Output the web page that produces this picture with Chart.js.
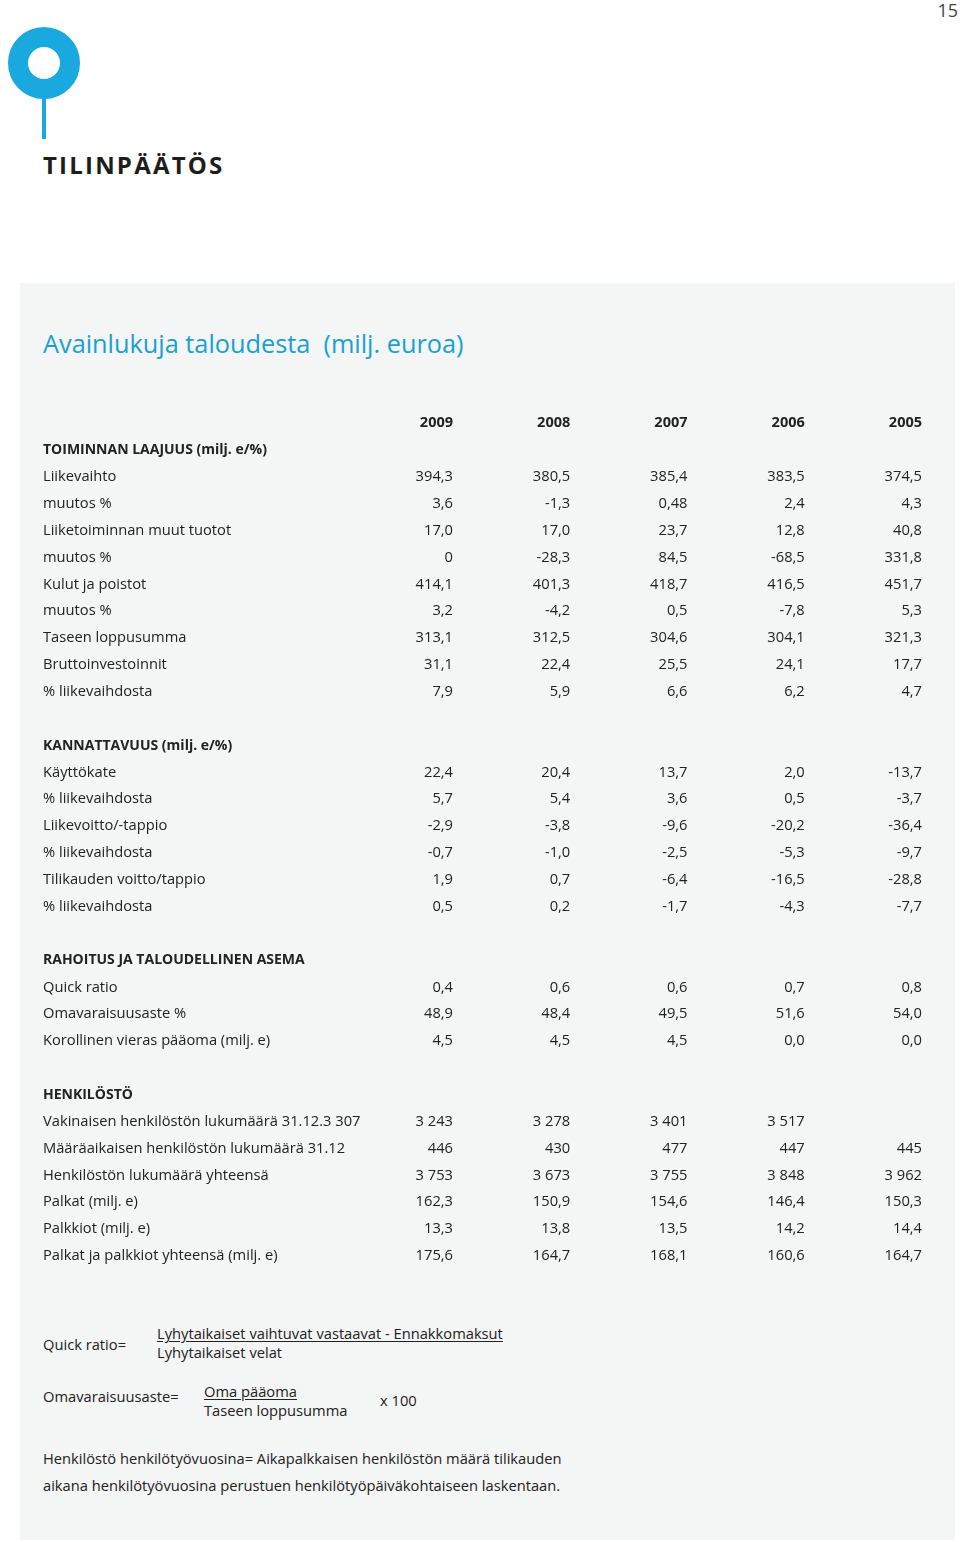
<!DOCTYPE html>
<html>
<head>
<meta charset="utf-8">
<script src="https://cdn.jsdelivr.net/npm/chart.js@4.4.1/dist/chart.umd.min.js"></script>
<style>
  body { margin: 0; background: #fff; width: 960px; height: 1542px; position: relative; overflow: hidden; font-family: 'Open Sans', sans-serif; }
  .t { position: absolute; font-size: 14.7px; line-height: 20px; color: #222; white-space: nowrap; }
  .u { text-decoration: underline; text-underline-offset: 2px; }
  #panel { position: absolute; left: 20px; top: 283px; width: 935px; height: 1257px; background: #f4f5f5; }
  #ring { position: absolute; left: 8px; top: 27px; width: 32px; height: 32px; border: 20px solid #19a9de; border-radius: 50%; }
  #stem { position: absolute; left: 42px; top: 96px; width: 4px; height: 43px; background: #19a9de; }
  #brand { position: absolute; left: 43px; top: 148px; font-size: 24px; font-weight: 700; letter-spacing: 2.2px; color: #1d1d1b; }
  #pageno { position: absolute; right: 2px; top: -2px; font-size: 18px; color: #444; }
  #heading { position: absolute; left: 43px; top: 326px; font-size: 25.3px; color: #1ba0d2; white-space: nowrap; }
  #wrap { position: absolute; left: 0; top: 401px; width: 960px; height: 880px; }
</style>
</head>
<body>
<div id="pageno">15</div>
<div id="ring"></div>
<div id="stem"></div>
<div id="brand">TILINPÄÄTÖS</div>
<div id="panel"></div>
<div id="heading">Avainlukuja taloudesta&nbsp; (milj. euroa)</div>

<div id="wrap"><canvas id="table" width="960" height="880"></canvas></div>

<div class="t" style="left:43px;top:1334px">Quick ratio=</div>
<div class="t u" style="left:157px;top:1323px">Lyhytaikaiset vaihtuvat vastaavat - Ennakkomaksut</div>
<div class="t" style="left:157px;top:1342px">Lyhytaikaiset velat</div>
<div class="t" style="left:43px;top:1386px">Omavaraisuusaste=</div>
<div class="t u" style="left:204px;top:1381px">Oma pääoma</div>
<div class="t" style="left:204px;top:1400px">Taseen loppusumma</div>
<div class="t" style="left:380px;top:1390px">x 100</div>
<div class="t" style="left:43px;top:1448px">Henkilöstö henkilötyövuosina= Aikapalkkaisen henkilöstön määrä tilikauden</div>
<div class="t" style="left:43px;top:1475px">aikana henkilötyövuosina perustuen henkilötyöpäiväkohtaiseen laskentaan.</div>

<script>
const years = ['2009', '2008', '2007', '2006', '2005'];

const rowLabels = [
    'TOIMINNAN LAAJUUS (milj. e/%)',
    'Liikevaihto',
    'muutos %',
    'Liiketoiminnan muut tuotot',
    'muutos %',
    'Kulut ja poistot',
    'muutos %',
    'Taseen loppusumma',
    'Bruttoinvestoinnit',
    '% liikevaihdosta',
    '',
    'KANNATTAVUUS (milj. e/%)',
    'Käyttökate',
    '% liikevaihdosta',
    'Liikevoitto/-tappio',
    '% liikevaihdosta',
    'Tilikauden voitto/tappio',
    '% liikevaihdosta',
    '',
    'RAHOITUS JA TALOUDELLINEN ASEMA',
    'Quick ratio',
    'Omavaraisuusaste %',
    'Korollinen vieras pääoma (milj. e)',
    '',
    'HENKILÖSTÖ',
    'Vakinaisen henkilöstön lukumäärä 31.12.3 307',
    'Määräaikaisen henkilöstön lukumäärä 31.12',
    'Henkilöstön lukumäärä yhteensä',
    'Palkat (milj. e)',
    'Palkkiot (milj. e)',
    'Palkat ja palkkiot yhteensä (milj. e)'
];

// rows that are section headings (bold)
const sectionRows = [0, 11, 19, 24];

const v2009 = [null, '394,3', '3,6', '17,0', '0', '414,1', '3,2', '313,1', '31,1', '7,9', null,
    null, '22,4', '5,7', '-2,9', '-0,7', '1,9', '0,5', null,
    null, '0,4', '48,9', '4,5', null,
    null, '3 243', '446', '3 753', '162,3', '13,3', '175,6'];
const v2008 = [null, '380,5', '-1,3', '17,0', '-28,3', '401,3', '-4,2', '312,5', '22,4', '5,9', null,
    null, '20,4', '5,4', '-3,8', '-1,0', '0,7', '0,2', null,
    null, '0,6', '48,4', '4,5', null,
    null, '3 278', '430', '3 673', '150,9', '13,8', '164,7'];
const v2007 = [null, '385,4', '0,48', '23,7', '84,5', '418,7', '0,5', '304,6', '25,5', '6,6', null,
    null, '13,7', '3,6', '-9,6', '-2,5', '-6,4', '-1,7', null,
    null, '0,6', '49,5', '4,5', null,
    null, '3 401', '477', '3 755', '154,6', '13,5', '168,1'];
const v2006 = [null, '383,5', '2,4', '12,8', '-68,5', '416,5', '-7,8', '304,1', '24,1', '6,2', null,
    null, '2,0', '0,5', '-20,2', '-5,3', '-16,5', '-4,3', null,
    null, '0,7', '51,6', '0,0', null,
    null, '3 517', '447', '3 848', '146,4', '14,2', '160,6'];
const v2005 = [null, '374,5', '4,3', '40,8', '331,8', '451,7', '5,3', '321,3', '17,7', '4,7', null,
    null, '-13,7', '-3,7', '-36,4', '-9,7', '-28,8', '-7,7', null,
    null, '0,8', '54,0', '0,0', null,
    null, null, '445', '3 962', '150,3', '14,4', '164,7'];

const columns = [v2009, v2008, v2007, v2006, v2005];

const FONT = "'Open Sans', sans-serif";
const INK = '#222';

// one invisible point per cell; the plugin writes the value at the point
const datasets = columns.map((col, c) => ({
    label: years[c],
    data: col.map((txt, r) => txt === null ? null : { x: c, y: r, txt: txt }).filter(p => p),
    pointRadius: 0,
    pointHoverRadius: 0,
    showLine: false
}));

const cellText = {
    id: 'cellText',
    afterDatasetsDraw(chart) {
        const ctx = chart.ctx;
        ctx.save();
        ctx.font = '14.7px ' + FONT;
        ctx.fillStyle = INK;
        ctx.textAlign = 'right';
        ctx.textBaseline = 'middle';
        chart.data.datasets.forEach((ds, i) => {
            chart.getDatasetMeta(i).data.forEach((pt, j) => {
                ctx.fillText(ds.data[j].txt, pt.x, pt.y);
            });
        });
        ctx.restore();
    }
};

new Chart(document.getElementById('table'), {
    type: 'scatter',
    data: { datasets: datasets },
    options: {
        responsive: false,
        animation: false,
        events: [],
        layout: { padding: { left: 43, right: 38, top: 0, bottom: 25 } },
        plugins: { legend: { display: false }, tooltip: { enabled: false } },
        scales: {
            x: {
                type: 'linear', position: 'top', min: 0, max: years.length - 1,
                grid: { display: false, drawTicks: false }, border: { display: false },
                afterBuildTicks: s => { s.ticks = years.map((_, i) => ({ value: i })); },
                afterFit: s => { s.height = 49; },
                ticks: {
                    autoSkip: false, maxRotation: 0, align: 'end', padding: 18,
                    color: INK, font: { family: FONT, size: 14.5, weight: 'bold' },
                    callback: v => years[v]
                }
            },
            y: {
                type: 'linear', position: 'left', reverse: true, min: 0, max: rowLabels.length - 1,
                grid: { display: false, drawTicks: false }, border: { display: false },
                afterBuildTicks: s => { s.ticks = rowLabels.map((_, i) => ({ value: i })); },
                afterFit: s => { s.width = 410; },
                ticks: {
                    autoSkip: false, crossAlign: 'far', padding: 0, color: INK,
                    font: c => sectionRows.includes(c.index)
                        ? { family: FONT, size: 14, weight: 'bold' }
                        : { family: FONT, size: 14.7, weight: 'normal' },
                    callback: v => rowLabels[v]
                }
            }
        }
    },
    plugins: [cellText]
});
</script>
</body>
</html>
